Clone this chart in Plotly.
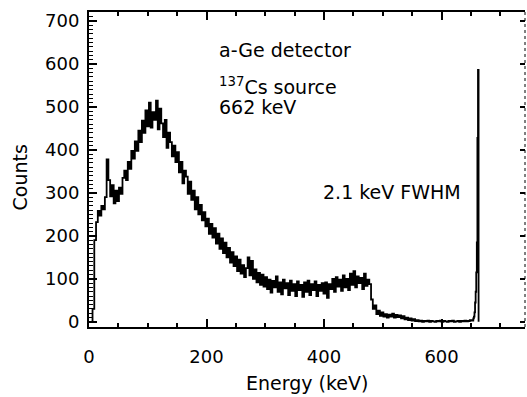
import numpy as np
import plotly.graph_objects as go

# ---- data: counts per 3 keV bin ----
bin_width_kev = 3
first_bin_kev = 3

counts_rise = [0, 30, 190, 232, 258, 247, 270, 262, 290, 378, 330, 292, 318, 276, 305, 281,
               312, 298, 335, 352, 330, 372, 356, 398, 380, 420, 398, 445, 418, 468, 440, 492, 455]
counts_hump = [510, 452, 488, 470, 515, 448, 496, 462, 430, 470, 405, 440, 418, 385, 410, 372,
               395, 348, 372, 322, 352, 338, 298, 326, 284, 305, 262, 290, 250, 272, 236, 255, 222]
counts_slope = [240, 205, 228, 196, 218, 182, 205, 170, 194, 160, 184, 150, 172, 138, 162, 130,
                152, 118, 145, 112, 132, 104, 125, 150, 108, 142, 100, 122, 92, 114, 86, 110, 82]
counts_flat = [104, 76, 98, 68, 95, 80, 106, 70, 92, 64, 98, 78, 90, 62, 96, 72, 88, 60, 94, 74,
               86, 58, 92, 70, 96, 62, 88, 74, 94, 60, 86, 72, 90]
counts_edge = [66, 92, 56, 88, 76, 100, 70, 104, 82, 98, 72, 108, 80, 100, 74, 112, 86, 118, 80,
               106, 90, 102, 76, 112, 84, 98, 88]
counts_gap = [52, 30, 38, 18, 26, 14, 22, 12, 18, 10, 17, 12, 19, 10, 16, 11, 15, 8, 13, 6, 10, 4,
              8, 3, 6, 2, 4, 1, 3, 0, 2, 1, 3, 0, 2, 1, 0, 2, 1, 3, 0, 2, 1, 0, 2, 1, 3, 0, 1, 2,
              0, 2, 1, 3, 1, 2, 4, 3, 8]

# photopeak region, 1 keV channels
peak_energy_kev = [655, 656, 657, 658, 659, 660, 661, 662, 663]
peak_counts = [12, 22, 45, 70, 115, 185, 428, 586, 0]

x_ticks = [0, 200, 400, 600]
y_ticks = [0, 100, 200, 300, 400, 500, 600, 700]

labels = ["a-Ge detector", "<sup>137</sup>Cs source", "662 keV", "2.1 keV FWHM"]

# ---- assemble ----
binned = counts_rise + counts_hump + counts_slope + counts_flat + counts_edge + counts_gap
energy = [first_bin_kev + bin_width_kev * i for i in range(len(binned))]
energy = energy + peak_energy_kev
counts = binned + peak_counts

FONT = "DejaVu Sans"

fig = go.Figure()
fig.add_trace(go.Scatter(x=energy, y=counts, mode="lines", line_shape="hv",
                         line=dict(color="black", width=1.8), showlegend=False,
                         hoverinfo="skip"))
fig.add_trace(go.Scatter(x=[None], y=[None], yaxis="y2", showlegend=False))

fig.update_layout(
    width=527, height=397,
    margin=dict(l=89, r=2, t=12, b=70),
    paper_bgcolor="white", plot_bgcolor="white",
    font=dict(family=FONT, color="black", size=17),
    xaxis=dict(range=[0, 742], tickvals=x_ticks, ticks="inside", ticklen=8, tickwidth=1.5,
               tickcolor="black", minor=dict(dtick=50, tick0=0, ticks="inside", ticklen=4,
                                             tickwidth=1.5, tickcolor="black"),
               showline=True, linewidth=2, linecolor="black", mirror="ticks",
               showgrid=False, zeroline=False, tickfont=dict(size=18),
               ticklabelstandoff=12, automargin=False),
    yaxis=dict(range=[-12, 721], tickvals=y_ticks, ticks="inside", ticklen=8, tickwidth=1.5,
               tickcolor="black", minor=dict(dtick=10, tick0=0, ticks="inside", ticklen=4,
                                             tickwidth=1, tickcolor="black"),
               showline=True, linewidth=2, linecolor="black",
               showgrid=False, zeroline=False, tickfont=dict(size=18),
               ticklabelstandoff=4, automargin=False),
    yaxis2=dict(range=[-12, 721], tickvals=y_ticks, overlaying="y", side="right",
                ticks="inside", ticklen=5, tickwidth=1.5, tickcolor="black",
                showticklabels=False, showline=False, showgrid=False, zeroline=False,
                automargin=False),
    shapes=[dict(type="line", xref="paper", yref="paper", x0=1, x1=1, y0=0, y1=1,
                 line=dict(color="black", width=1, dash="dot"))],
)

ann = [
    dict(x=218, y=633, text=labels[0], xanchor="left", yanchor="middle"),
    dict(x=218, y=548, text=labels[1], xanchor="left", yanchor="middle"),
    dict(x=218, y=500, text=labels[2], xanchor="left", yanchor="middle"),
    dict(x=636, y=302, text=labels[3], xanchor="right", yanchor="middle"),
]
for a in ann:
    fig.add_annotation(xref="x", yref="y", showarrow=False,
                       font=dict(family=FONT, size=19, color="black"), **a)

fig.add_annotation(xref="paper", yref="paper", x=0.5, y=-0.137, yanchor="top",
                   text="Energy (keV)", showarrow=False, font=dict(family=FONT, size=19))
fig.add_annotation(xref="paper", x=-0.158, xanchor="center", yref="paper", y=0.475,
                   text="Counts", textangle=-90, showarrow=False, font=dict(family=FONT, size=19))

fig.write_html("out.html", config={"displayModeBar": False},
               post_script="document.body.style.margin='0';")
